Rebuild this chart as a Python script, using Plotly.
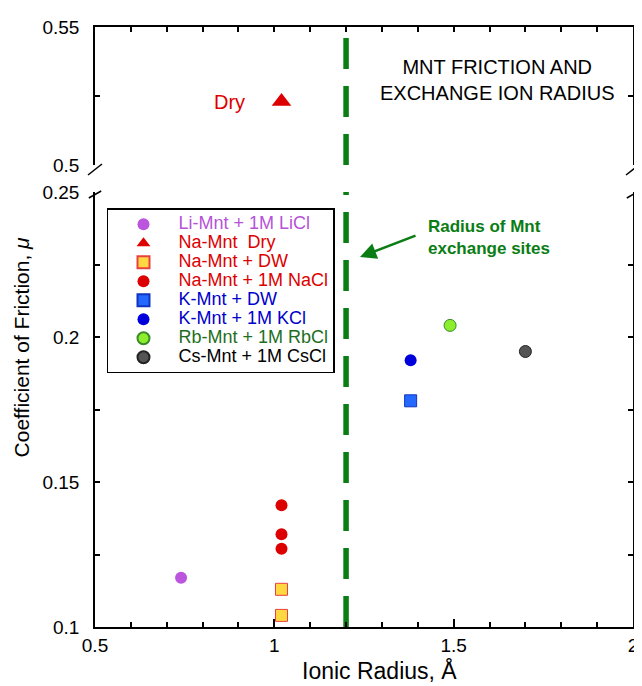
import plotly.graph_objects as go

# ---------------- data ----------------
li_x = [0.74]
li_y = [0.117]
na_dry_x = [1.02]
na_dry_y = [0.523]
na_dw_x = [1.02, 1.02]
na_dw_y = [0.113, 0.104]
na_nacl_x = [1.02, 1.02, 1.02]
na_nacl_y = [0.142, 0.132, 0.127]
k_dw_x = [1.38]
k_dw_y = [0.178]
k_kcl_x = [1.38]
k_kcl_y = [0.192]
rb_x = [1.49]
rb_y = [0.204]
cs_x = [1.70]
cs_y = [0.195]

site_radius = 1.2          # radius of Mnt exchange sites
x_range = [0.5, 2.0]
y_low_range = [0.1, 0.25]
y_high_range = [0.5, 0.55]
x_ticks = [0.5, 1.0, 1.5, 2.0]
x_ticktext = ["0.5", "1", "1.5", "2"]
y_low_ticks = [0.1, 0.15, 0.2, 0.25]
y_low_ticktext = ["0.1", "0.15", "0.2", "0.25"]
y_low_minor = [0.125, 0.175, 0.225]
y_high_ticks = [0.5, 0.525, 0.55]
y_high_ticktext = ["0.5", "", "0.55"]

FONT = "Liberation Sans, Arial, Helvetica, sans-serif"
GREEN = "#0a7d14"
RED = "#dd0000"


def lbl(text, color):
    return f"<span style='font-size:18px;color:{color}'>{text}</span>"


series = [
    dict(name=lbl("Li-Mnt + 1M LiCl", "#b652d8"), x=li_x, y=li_y, xa="x", ya="y",
         marker=dict(symbol="circle", size=12, color="#bb55dd", line=dict(width=0))),
    dict(name=lbl("Na-Mnt\u00a0 Dry", RED), x=na_dry_x, y=na_dry_y, xa="x2", ya="y2",
         marker=dict(symbol="triangle-up", size=17, color=RED, line=dict(width=0))),
    dict(name=lbl("Na-Mnt + DW", RED), x=na_dw_x, y=na_dw_y, xa="x", ya="y",
         marker=dict(symbol="square", size=12, color="#ffd740", line=dict(width=1, color="#e84040"))),
    dict(name=lbl("Na-Mnt + 1M NaCl", RED), x=na_nacl_x, y=na_nacl_y, xa="x", ya="y",
         marker=dict(symbol="circle", size=12, color=RED, line=dict(width=0))),
    dict(name=lbl("K-Mnt + DW", "#0000cc"), x=k_dw_x, y=k_dw_y, xa="x", ya="y",
         marker=dict(symbol="square", size=12, color="#2468ff", line=dict(width=1, color="#1034c0"))),
    dict(name=lbl("K-Mnt + 1M KCl", "#0000cc"), x=k_kcl_x, y=k_kcl_y, xa="x", ya="y",
         marker=dict(symbol="circle", size=12, color="#0000dd", line=dict(width=0))),
    dict(name=lbl("Rb-Mnt + 1M RbCl", "#1e6e1e"), x=rb_x, y=rb_y, xa="x", ya="y",
         marker=dict(symbol="circle", size=12, color="#8cee2c", line=dict(width=1, color="#3a8a2a"))),
    dict(name=lbl("Cs-Mnt + 1M CsCl", "#000000"), x=cs_x, y=cs_y, xa="x", ya="y",
         marker=dict(symbol="circle", size=12, color="#555555", line=dict(width=1, color="#222222"))),
]

fig = go.Figure()

# vertical dashed line: radius of Mnt exchange sites (both panels)
fig.add_trace(go.Scatter(x=[site_radius, site_radius], y=y_low_range, mode="lines",
                         line=dict(color=GREEN, width=5.5, dash="31px,17px"),
                         xaxis="x", yaxis="y", showlegend=False, hoverinfo="skip"))
fig.add_trace(go.Scatter(x=[site_radius, site_radius], y=y_high_range, mode="lines",
                         line=dict(color=GREEN, width=5.5, dash="31px,17px"),
                         xaxis="x2", yaxis="y2", showlegend=False, hoverinfo="skip"))

for s in series:
    fig.add_trace(go.Scatter(x=s["x"], y=s["y"], mode="markers", name=s["name"],
                             marker=s["marker"], xaxis=s["xa"], yaxis=s["ya"]))

axis_common = dict(showline=True, linecolor="black", linewidth=1.5, showgrid=False,
                   zeroline=False, tickcolor="black", tickwidth=1.5, automargin=False,
                   tickfont=dict(family=FONT, size=19, color="black"))

# page body has an 8px margin: figure is sized/margined so the plot area lands
# at the same window pixels as the reference
fig.update_layout(
    width=634, height=678,
    margin=dict(l=87, r=9, t=19, b=59, autoexpand=False),
    paper_bgcolor="white", plot_bgcolor="white",
    font=dict(family=FONT, color="black"),
    xaxis=dict(domain=[0, 1], range=x_range, anchor="y", tickvals=x_ticks, ticktext=x_ticktext,
               ticks="inside", ticklen=8, mirror=False,
               minor=dict(dtick=0.1, tick0=0.5, ticks="inside", ticklen=5, tickcolor="black", tickwidth=1.5),
               **axis_common),
    yaxis=dict(domain=[0, 0.725], range=y_low_range, anchor="x", tickvals=y_low_ticks,
               ticktext=y_low_ticktext, ticks="inside", ticklen=5, mirror="ticks",
               ticklabelstandoff=10,
               minor=dict(tickvals=y_low_minor, ticks="inside", ticklen=5, tickcolor="black", tickwidth=1.5),
               **axis_common),
    xaxis2=dict(domain=[0, 1], range=x_range, anchor="y2", side="top", showticklabels=False,
                tick0=0.5, dtick=0.1, ticks="inside", ticklen=5, mirror=False, **axis_common),
    yaxis2=dict(domain=[0.77, 1], range=y_high_range, anchor="x2", tickvals=y_high_ticks,
                ticktext=y_high_ticktext, ticks="inside", ticklen=5, mirror="ticks",
                ticklabelstandoff=10, **axis_common),
    legend=dict(x=0.0223, y=0.698, xanchor="left", yanchor="top", bgcolor="white",
                bordercolor="black", borderwidth=1.5, font=dict(family=FONT, size=12),
                itemsizing="constant", itemwidth=60, tracegroupgap=0),
    showlegend=True,
)

# axis-break marks
for xc in (0.0, 1.0):
    fig.add_shape(type="line", xref="paper", yref="paper", x0=xc - 0.013, x1=xc + 0.013,
                  y0=0.7533, y1=0.7717, line=dict(color="black", width=1.5))
    fig.add_shape(type="line", xref="paper", yref="paper", x0=xc - 0.0115, x1=xc + 0.0115,
                  y0=0.715, y1=0.7267, line=dict(color="black", width=1.5))

fig.add_annotation(x=0.747, y=0.912, xref="paper", yref="paper", showarrow=False,
                   text="MNT FRICTION AND<br>EXCHANGE ION RADIUS",
                   font=dict(family=FONT, size=20, color="black"), xanchor="center", yanchor="middle")
fig.add_annotation(x=0.876, y=na_dry_y[0], xref="x2", yref="y2", showarrow=False, text="Dry",
                   font=dict(family=FONT, size=20, color=RED), xanchor="center", yanchor="middle")
fig.add_annotation(x=0.615, y=0.649, xref="paper", yref="paper", showarrow=False, align="left",
                   text="<b>Radius of Mnt<br>exchange sites</b>",
                   font=dict(family=FONT, size=17, color=GREEN), xanchor="left", yanchor="middle")
fig.add_annotation(x=0.4926, y=0.6167, xref="paper", yref="paper", text="", showarrow=True,
                   ax=57, ay=-22, arrowcolor=GREEN, arrowwidth=2.5, arrowhead=2, arrowsize=1.3)
fig.add_annotation(x=-0.1375, y=0.466, xref="paper", yref="paper", showarrow=False,
                   text="Coefficient of Friction, <i>μ</i>", textangle=-90,
                   font=dict(family=FONT, size=21, color="black"), xanchor="center", yanchor="middle")
fig.add_annotation(x=0.528, y=-0.0733, xref="paper", yref="paper", showarrow=False,
                   text="Ionic Radius, Å",
                   font=dict(family=FONT, size=23, color="black"), xanchor="center", yanchor="middle")

fig.write_html("out.html")
